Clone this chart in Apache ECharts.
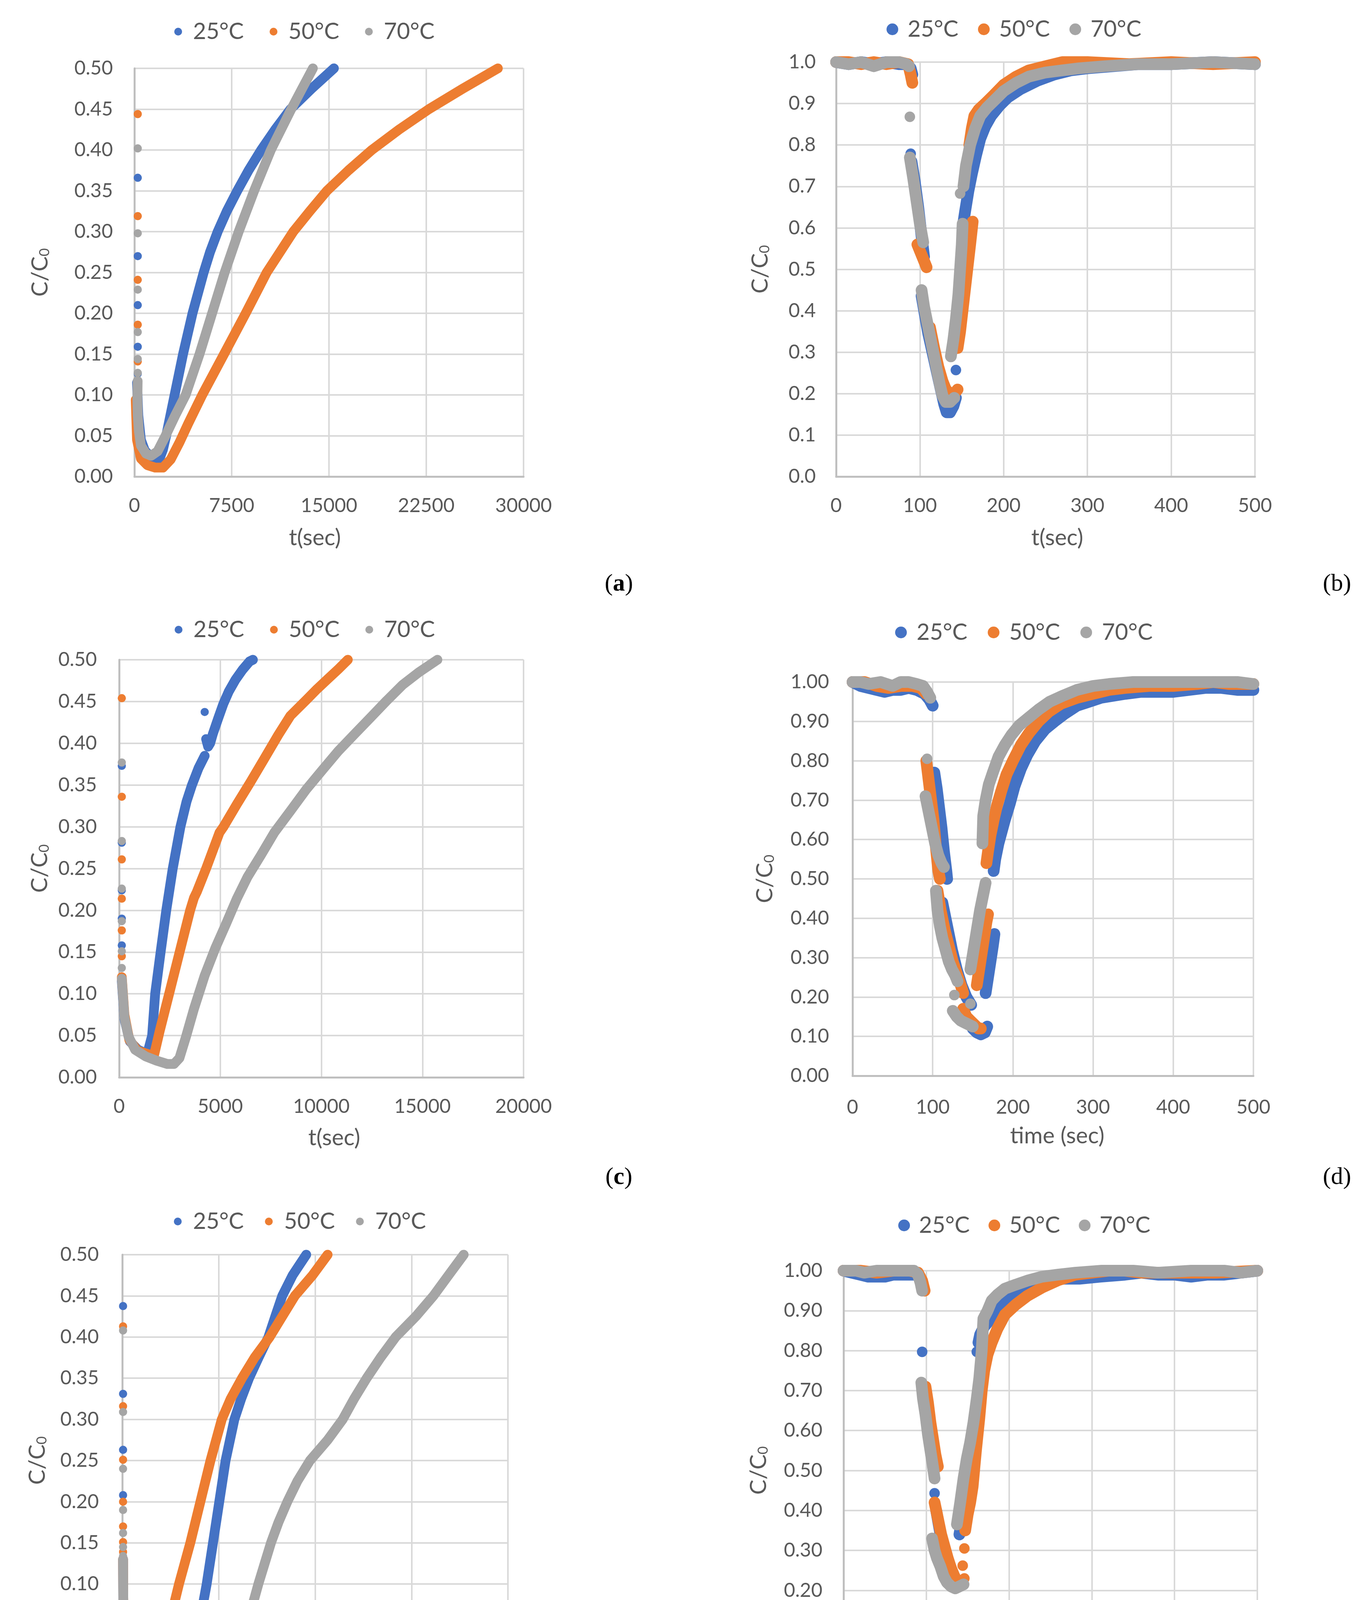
<!DOCTYPE html>
<html>
<head>
<meta charset="utf-8">
<script src="https://cdn.jsdelivr.net/npm/echarts@6/dist/echarts.min.js"></script>
<style>
html,body{margin:0;padding:0;background:#fff;}
#chart{width:3509px;height:4632px;}
</style>
</head>
<body>
<div id="chart"></div>
<script>
// ---------- tick values ----------
const xTicksA = [0, 7500, 15000, 22500, 30000];
const xTicksC = [0, 5000, 10000, 15000, 20000];
const xTicksE = [0, 15000, 30000, 45000, 60000];
const xTicksBDF = [0, 100, 200, 300, 400, 500];
const yTicksACE = [0, 0.05, 0.10, 0.15, 0.20, 0.25, 0.30, 0.35, 0.40, 0.45, 0.50];
const yTicksB = [0, 0.1, 0.2, 0.3, 0.4, 0.5, 0.6, 0.7, 0.8, 0.9, 1.0];
const yTicksDF = [0, 0.1, 0.2, 0.3, 0.4, 0.5, 0.6, 0.7, 0.8, 0.9, 1.0];
const legendNames = ['25°C', '50°C', '70°C'];

// ---------- data: [t, C/C0]; null = break between separate runs of points ----------
const a25 = [[258,0.366],null,[258,0.270],null,[258,0.210],null,[258,0.159],null,[258,0.126],null,
 [200,0.115],[300,0.075],[500,0.045],[800,0.032],[1200,0.025],[1600,0.021],[1890,0.020],[2200,0.033],[2450,0.05],[3100,0.10],[3750,0.15],[4480,0.20],[5340,0.25],[5830,0.275],[6420,0.30],[7120,0.325],[7930,0.35],[8800,0.375],[9770,0.40],[10850,0.425],[12030,0.45],[13650,0.475],[15380,0.50]];
const a50 = [[258,0.444],null,[258,0.319],null,[258,0.241],null,[258,0.186],null,[258,0.141],null,[258,0.117],null,
 [100,0.094],[200,0.045],[500,0.022],[1000,0.014],[1600,0.011],[2200,0.011],[2800,0.021],[3480,0.042],[4150,0.065],[5230,0.10],[6910,0.15],[8580,0.20],[10200,0.25],[12250,0.30],[13520,0.325],[14840,0.35],[16500,0.375],[18300,0.40],[20400,0.425],[22700,0.45],[25300,0.475],[28020,0.50]];
const a70 = [[258,0.402],null,[258,0.298],null,[258,0.229],null,[258,0.177],null,[258,0.144],null,[258,0.127],null,
 [250,0.117],[240,0.106],[230,0.097],[260,0.075],[350,0.055],[500,0.038],[900,0.028],[1290,0.0255],[1790,0.031],[2400,0.05],[3150,0.075],[3950,0.10],[5020,0.15],[5990,0.20],[6960,0.25],[8040,0.30],[9230,0.35],[10520,0.40],[12090,0.45],[12920,0.475],[13760,0.50]];

const b25 = [[0,1.0],[15,0.995],[30,1.0],[45,0.995],[60,1.0],[75,0.995],[85,0.995],[89,0.985],[91,0.97],null,
 [89,0.779],null,
 [90,0.76],[94,0.71],[98,0.65],[102,0.58],[105,0.53],null,
 [102,0.436],[106,0.39],[110,0.345],[115,0.30],[120,0.255],[125,0.21],[129,0.175],[132,0.155],[136,0.155],[140,0.17],[143,0.19],null,
 [143,0.257],null,
 [150,0.555],null,
 [151,0.60],[154,0.64],[158,0.69],[162,0.73],[167,0.775],[172,0.815],[178,0.845],[185,0.87],[195,0.895],[205,0.915],[220,0.935],[240,0.955],[260,0.97],[280,0.98],[300,0.985],[330,0.99],[360,0.995],[400,0.995],[450,1.0],[500,0.995]];
const b50 = [[0,1.0],[15,1.0],[30,0.995],[45,1.0],[60,0.995],[75,1.0],[86,0.995],[89,0.97],[91,0.95],null,
 [97,0.56],[100,0.545],[104,0.525],[108,0.505],null,
 [112,0.36],[117,0.31],[122,0.265],[127,0.23],[131,0.21],[136,0.20],[141,0.20],[145,0.21],null,
 [145,0.31],[148,0.35],[152,0.42],[156,0.49],[160,0.56],[163,0.615],null,
 [159,0.80],[162,0.84],[165,0.87],[170,0.885],[178,0.90],[188,0.92],[200,0.945],[215,0.965],[230,0.98],[250,0.99],[270,1.0],[300,1.0],[350,0.995],[400,1.0],[450,0.995],[500,1.0]];
const b70 = [[0,1.0],[15,0.995],[30,1.0],[45,0.99],[60,1.0],[75,1.0],[84,0.995],[87,0.99],null,
 [88,0.868],null,
 [88,0.77],[92,0.72],[96,0.665],[100,0.61],[104,0.565],null,
 [102,0.45],[105,0.41],[110,0.36],[115,0.31],[120,0.26],[124,0.22],[127,0.195],[131,0.18],[136,0.18],[141,0.19],null,
 [137,0.29],[140,0.33],[143,0.38],[146,0.44],[148,0.50],[150,0.56],[151,0.61],null,
 [148,0.683],null,
 [152,0.70],[155,0.75],[160,0.80],[166,0.84],[172,0.87],[180,0.89],[190,0.91],[200,0.93],[215,0.95],[230,0.965],[250,0.975],[270,0.98],[290,0.985],[320,0.99],[360,0.995],[400,0.995],[450,1.0],[500,0.995]];

const c25 = [[130,0.373],null,[130,0.281],null,[130,0.224],null,[130,0.190],null,[130,0.158],null,
 [130,0.115],[260,0.07],[530,0.043],[930,0.033],[1390,0.028],[1630,0.05],[1780,0.10],[2050,0.15],[2330,0.20],[2650,0.25],[3030,0.30],[3330,0.33],[3600,0.35],[3920,0.37],[4230,0.385],null,
 [4230,0.4375],null,
 [4300,0.405],[4400,0.396],[4500,0.40],[4630,0.411],[4900,0.43],[5150,0.447],[5420,0.462],[5750,0.476],[6100,0.488],[6450,0.498],[6615,0.50]];
const c50 = [[130,0.454],null,[130,0.336],null,[130,0.261],null,[130,0.214],null,[130,0.176],null,[130,0.145],null,
 [130,0.12],[260,0.075],[500,0.045],[900,0.032],[1400,0.028],[1720,0.026],[2000,0.055],[2470,0.10],[2990,0.15],[3510,0.20],[3700,0.215],[3840,0.222],[4300,0.25],[4960,0.293],[5160,0.30],[5820,0.327],[6480,0.353],[7140,0.38],[7870,0.41],[8470,0.433],[9260,0.452],[9790,0.465],[10320,0.477],[10850,0.489],[11310,0.50]];
const c70 = [[130,0.377],null,[130,0.283],null,[130,0.226],null,[130,0.187],null,[130,0.151],null,[130,0.131],null,
 [130,0.118],[260,0.072],[460,0.049],[790,0.033],[1320,0.025],[1850,0.020],[2380,0.016],[2710,0.016],[2980,0.023],[3310,0.049],[3700,0.082],[4230,0.122],[4760,0.155],[5290,0.184],[5820,0.214],[6350,0.240],[7010,0.266],[7670,0.293],[8470,0.319],[9260,0.345],[10050,0.368],[10850,0.391],[11640,0.411],[12440,0.431],[13230,0.451],[14020,0.470],[14820,0.485],[15740,0.50]];

const d25 = [[0,1.0],[10,0.99],[20,0.985],[30,0.98],[40,0.975],[50,0.98],[60,0.98],[70,0.985],[80,0.98],[90,0.97],[96,0.955],[100,0.94],null,
 [102,0.77],[105,0.73],[108,0.68],[111,0.63],[114,0.57],[117,0.52],[118,0.50],null,
 [112,0.44],[118,0.38],[124,0.32],[130,0.27],[136,0.23],[142,0.20],[148,0.18],null,
 [150,0.12],[155,0.11],[160,0.105],[165,0.11],[168,0.125],null,
 [166,0.21],[169,0.25],[172,0.29],[175,0.33],[177,0.36],null,
 [176,0.52],[178,0.55],[182,0.59],[186,0.62],[190,0.65],[196,0.69],[202,0.735],[210,0.78],[218,0.815],[228,0.85],[240,0.88],[252,0.90],[265,0.92],[280,0.94],[295,0.95],[310,0.96],[325,0.965],[340,0.97],[360,0.975],[380,0.975],[400,0.975],[420,0.98],[440,0.985],[460,0.985],[480,0.98],[500,0.98]];
const d50 = [[0,1.0],[15,1.0],[30,0.99],[45,0.985],[60,0.99],[75,0.99],[85,0.985],[92,0.97],null,
 [92,0.80],[95,0.75],[98,0.70],[101,0.65],[104,0.58],[107,0.52],[109,0.50],null,
 [106,0.47],[110,0.42],[115,0.37],[120,0.33],[125,0.29],[130,0.26],[135,0.23],[138,0.21],null,
 [138,0.17],[142,0.15],[147,0.14],[152,0.13],[157,0.12],[160,0.12],null,
 [155,0.23],[158,0.27],[161,0.31],[164,0.35],[167,0.39],[169,0.41],null,
 [167,0.54],[169,0.57],[172,0.61],[176,0.65],[180,0.685],[185,0.72],[192,0.765],[200,0.80],[210,0.84],[220,0.87],[232,0.90],[245,0.925],[260,0.945],[280,0.96],[300,0.97],[320,0.98],[340,0.985],[370,0.99],[400,0.99],[430,0.995],[450,1.0],[470,0.995],[500,0.995]];
const d70 = [[0,1.0],[10,1.0],[20,0.995],[35,1.0],[50,0.99],[60,1.0],[70,1.0],[80,0.995],[88,0.99],[93,0.975],[97,0.96],null,
 [93,0.805],null,
 [91,0.71],[95,0.67],[99,0.63],[103,0.59],[107,0.56],[111,0.54],[114,0.53],null,
 [104,0.47],[106,0.42],[109,0.38],[112,0.35],[116,0.32],[120,0.29],[124,0.27],[128,0.255],[131,0.24],null,
 [127,0.205],null,
 [125,0.165],[130,0.15],[135,0.14],[140,0.135],[145,0.13],[150,0.125],null,
 [147,0.183],null,
 [147,0.27],[151,0.32],[155,0.37],[159,0.42],[163,0.46],[166,0.49],null,
 [162,0.59],[163,0.66],[166,0.70],[170,0.74],[175,0.77],[182,0.81],[190,0.84],[198,0.865],[208,0.89],[220,0.91],[232,0.93],[246,0.95],[262,0.965],[280,0.98],[300,0.99],[320,0.995],[350,1.0],[400,1.0],[450,1.0],[480,1.0],[500,0.995]];

const e25 = [[120,0.4376],null,[120,0.331],null,[120,0.263],null,[120,0.208],null,
 [120,0.13],[150,0.08],[250,0.05],[600,0.03],[980,0.019],[2000,0.012],[3330,0.0092],[5300,0.007],[7250,0.0059],[9800,0.0026],[10780,0.0158],[11960,0.05],[13130,0.10],[14110,0.15],[15090,0.20],[16070,0.25],[17440,0.30],[18500,0.325],[19720,0.35],[21200,0.375],[22740,0.40],[23800,0.425],[24890,0.45],[26500,0.475],[28620,0.50]];
const e50 = [[120,0.413],null,[120,0.316],null,[120,0.251],null,[120,0.200],null,[120,0.170],null,[120,0.151],null,[120,0.139],null,
 [120,0.13],[150,0.085],[250,0.055],[590,0.032],[1760,0.022],[3330,0.0174],[5290,0.015],[5880,0.019],[7250,0.05],[8820,0.10],[10580,0.15],[12150,0.20],[13720,0.25],[15480,0.30],[16860,0.325],[18620,0.35],[20580,0.375],[22930,0.40],[24890,0.425],[26850,0.45],[29600,0.475],[31950,0.50]];
const e70 = [[120,0.408],null,[120,0.309],null,[120,0.240],null,[120,0.190],null,[120,0.162],null,[120,0.145],null,[120,0.134],null,
 [120,0.13],[160,0.075],[300,0.045],[590,0.032],[1760,0.022],[3330,0.0174],[5290,0.013],[7250,0.0108],[11170,0.0092],[15090,0.0108],[17050,0.019],[18620,0.0355],[19400,0.05],[21170,0.10],[22150,0.125],[23130,0.15],[24300,0.175],[25680,0.20],[27240,0.225],[29200,0.25],[31950,0.275],[34300,0.30],[36060,0.325],[38020,0.35],[40180,0.375],[42530,0.40],[45670,0.425],[48410,0.45],[50760,0.475],[53120,0.50]];

const f25 = [[0,1.0],[10,0.995],[20,0.99],[30,0.985],[40,0.985],[50,0.985],[60,0.99],[70,0.99],[80,0.99],[88,0.99],null,
 [95,0.797],null,
 [110,0.443],null,
 [112,0.40],[118,0.33],[124,0.27],[130,0.23],[136,0.22],[140,0.22],null,
 [140,0.34],[145,0.40],[150,0.47],[155,0.53],[160,0.60],[162,0.62],null,
 [161,0.797],null,
 [163,0.82],[165,0.84],[170,0.86],[176,0.875],[183,0.895],[190,0.915],[200,0.93],[212,0.945],[225,0.96],[243,0.975],[260,0.98],[285,0.98],[310,0.985],[340,0.99],[360,0.995],[380,0.99],[400,0.99],[420,0.985],[440,0.99],[460,0.99],[480,0.995],[500,1.0]];
const f50 = [[0,1.0],[20,1.0],[40,0.995],[60,1.0],[80,1.0],[90,0.995],[95,0.975],[98,0.95],null,
 [99,0.71],[102,0.67],[105,0.62],[108,0.58],[111,0.54],[114,0.51],null,
 [110,0.42],[114,0.38],[118,0.34],[122,0.31],[126,0.28],[130,0.255],[134,0.235],[138,0.22],[142,0.215],null,
 [146,0.305],null,[144,0.262],null,[146,0.23],null,
 [147,0.35],[150,0.39],[153,0.42],[156,0.46],[160,0.55],[164,0.63],[167,0.70],[170,0.75],[174,0.79],[179,0.82],[186,0.855],[195,0.89],[208,0.915],[222,0.937],[240,0.958],[259,0.976],[280,0.99],[300,0.995],[320,1.0],[340,1.0],[360,0.995],[400,0.995],[450,0.995],[500,1.0]];
const f70 = [[0,1.0],[15,1.0],[25,0.995],[40,1.0],[55,1.0],[70,1.0],[85,1.0],[90,0.99],[93,0.97],[95,0.95],null,
 [94,0.72],[96,0.68],[99,0.64],[102,0.59],[105,0.55],[108,0.51],[110,0.48],null,
 [107,0.33],[110,0.30],[113,0.28],[117,0.26],[121,0.235],[125,0.22],[130,0.21],[135,0.205],[140,0.21],[145,0.215],null,
 [137,0.365],[141,0.42],[145,0.48],[149,0.53],[153,0.57],[157,0.62],[161,0.68],[164,0.73],[167,0.80],[169,0.88],[174,0.90],[179,0.925],[186,0.94],[195,0.955],[208,0.965],[222,0.975],[240,0.985],[259,0.99],[280,0.995],[312,1.0],[350,1.0],[380,0.995],[420,1.0],[460,1.0],[480,0.995],[500,1.0]];

// ---------- layout / styling ----------
const COLORS = ['#4472C4', '#ED7D31', '#A5A5A5'];
const TXT = '#595959';
const FONT = 'Lato';

const panels = [
 {grid:{left:344,top:175,width:996,height:1045}, xt:xTicksA, yt:yTicksACE, dec:2, xName:'t(sec)', data:[a25,a50,a70], band:25, dot:21,
  lg:{left:446,top:52,w:66,h:20,gap:66}, yGap:212, xGap:128, xPad:[0,72,0,0], yMargin:55, xMargin:50, lab:{t:'a',bold:true,x:1584,y:1496}},
 {grid:{left:2140,top:159,width:1072,height:1061}, xt:xTicksBDF, yt:yTicksB, dec:1, xName:'t(sec)', data:[b25,b50,b70], band:30, dot:27,
  lg:{left:2269,top:46,w:68,h:30,gap:50}, yGap:165, xGap:128, xPad:[0,0,0,60], yMargin:52, xMargin:50, lab:{t:'b',bold:false,x:3422,y:1496}},
 {grid:{left:305,top:1689,width:1035,height:1069}, xt:xTicksC, yt:yTicksACE, dec:2, xName:'t(sec)', data:[c25,c50,c70], band:25, dot:21,
  lg:{left:447,top:1583,w:66,h:20,gap:66}, yGap:174, xGap:126, xPad:[0,0,0,66], yMargin:57, xMargin:50, lab:{t:'c',bold:true,x:1584,y:3015}},
 {grid:{left:2182,top:1746,width:1026,height:1008}, xt:xTicksBDF, yt:yTicksDF, dec:2, xName:'time (sec)', data:[d25,d50,d70], band:30, dot:27,
  lg:{left:2291,top:1590,w:70,h:30,gap:52}, yGap:195, xGap:125, xPad:[0,0,0,22], yMargin:60, xMargin:56, lab:{t:'d',bold:false,x:3422,y:3015}},
 {grid:{left:313,top:3212,width:987,height:1054}, xt:xTicksE, yt:yTicksACE, dec:2, xName:'time (sec)', data:[e25,e50,e70], band:25, dot:21,
  lg:{left:445,top:3098,w:68,h:20,gap:54}, yGap:188, xGap:140, xPad:[0,0,0,0], yMargin:60, xMargin:52, lab:{t:'e',bold:true,x:1584,y:4543}},
 {grid:{left:2159,top:3253,width:1059,height:1023}, xt:xTicksBDF, yt:yTicksDF, dec:2, xName:'time (sec)', data:[f25,f50,f70], band:30, dot:27,
  lg:{left:2299,top:3108,w:66,h:30,gap:48}, yGap:188, xGap:121, xPad:[0,0,0,14], yMargin:54, xMargin:52, lab:{t:'f',bold:false,x:3422,y:4543}}
];

function toData(arr){ return arr.map(p => p === null ? ['-','-'] : p); }

const option = {
  backgroundColor: '#ffffff',
  animation: false,
  grid: [], xAxis: [], yAxis: [], legend: [], series: [], graphic: []
};

panels.forEach((p, i) => {
  option.grid.push(Object.assign({containLabel:false}, p.grid));
  const xi = p.xt[1] - p.xt[0];
  const yi = p.yt[1] - p.yt[0];
  option.xAxis.push({
    type:'value', gridIndex:i, min:p.xt[0], max:p.xt[p.xt.length-1], interval:xi,
    axisLine:{show:true, onZero:false, lineStyle:{color:'#BFBFBF', width:5}},
    axisTick:{show:false},
    splitLine:{show:true, lineStyle:{color:'#D9D9D9', width:4}},
    axisLabel:{fontSize:50, color:TXT, fontFamily:FONT, margin:p.xMargin, formatter:v => String(v)},
    name:p.xName, nameLocation:'middle', nameGap:p.xGap,
    nameTextStyle:{fontSize:58, color:TXT, fontFamily:FONT, padding:p.xPad}
  });
  option.yAxis.push({
    type:'value', gridIndex:i, min:p.yt[0], max:p.yt[p.yt.length-1], interval:yi,
    axisLine:{show:true, onZero:false, lineStyle:{color:'#BFBFBF', width:5}},
    axisTick:{show:false},
    splitLine:{show:true, lineStyle:{color:'#D9D9D9', width:4}},
    axisLabel:{fontSize:50, color:TXT, fontFamily:FONT, margin:p.yMargin, formatter:v => v.toFixed(p.dec)},
    name:'C/C{s|0}', nameLocation:'middle', nameGap:p.yGap, nameRotate:90,
    nameTextStyle:{fontSize:58, color:TXT, fontFamily:FONT,
      rich:{s:{fontSize:36, color:TXT, fontFamily:FONT, verticalAlign:'bottom', lineHeight:58}}}
  });
  option.legend.push({
    data:legendNames, left:p.lg.left, top:p.lg.top, padding:0, orient:'horizontal',
    icon:'circle', itemWidth:p.lg.w, itemHeight:p.lg.h, itemGap:p.lg.gap,
    textStyle:{fontSize:58, color:TXT, fontFamily:FONT, width:130},
    selectedMode:false
  });
  p.data.forEach((d, k) => {
    option.series.push({
      name:legendNames[k], type:'line', xAxisIndex:i, yAxisIndex:i,
      data:toData(d), z:2 + k, clip:false, silent:true,
      symbol:'circle', symbolSize:p.dot, showSymbol:true, showAllSymbol:true,
      connectNulls:false,
      itemStyle:{color:COLORS[k], borderWidth:0},
      lineStyle:{color:COLORS[k], width:p.band, cap:'round', join:'round'},
      emphasis:{disabled:true}
    });
  });
  option.graphic.push({
    type:'text', x:p.lab.x, y:p.lab.y, z:100,
    style:{
      text: p.lab.bold ? '({b|' + p.lab.t + '})' : '(' + p.lab.t + ')',
      fill:'#000', font:'62px "Liberation Serif"', align:'center', verticalAlign:'middle',
      rich:{b:{fontWeight:'bold', fontSize:62, fontFamily:'Liberation Serif', fill:'#000'}}
    }
  });
});

const chart = echarts.init(document.getElementById('chart'), null, {renderer:'canvas', width:3509, height:4632});
chart.setOption(option);
</script>
</body>
</html>
